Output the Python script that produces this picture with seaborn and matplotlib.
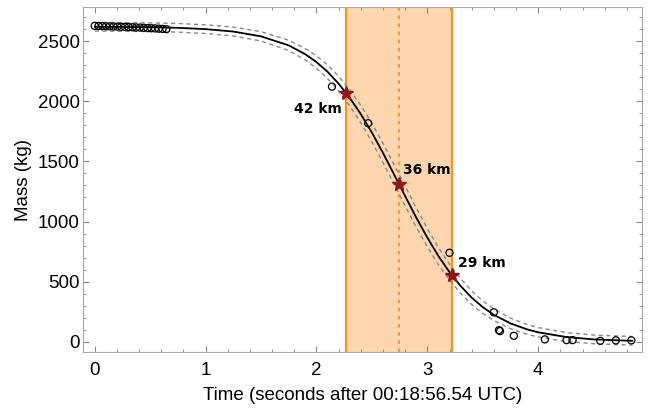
"""
plot.py
Mass loss of the object over time: observed points, fitted curve with
uncertainty bounds, and the fragmentation window highlighted in orange.
"""

import numpy as np
import pandas as pd
import matplotlib
matplotlib.use("Agg")
import matplotlib.pyplot as plt
from matplotlib.ticker import MultipleLocator
import seaborn as sns

# Observed masses (kg) against time (s)
obs_time = [0.00, 0.034, 0.068, 0.102, 0.136, 0.170, 0.204, 0.238, 0.272, 0.306,
            0.340, 0.374, 0.408, 0.442, 0.476, 0.510, 0.544, 0.578, 0.612, 0.646,
            2.14, 2.466, 3.20, 3.60, 3.646, 3.655, 3.78, 4.06, 4.256, 4.31,
            4.56, 4.70, 4.84]
obs_mass = [2626, 2625, 2624, 2623, 2622, 2621, 2620, 2619, 2618, 2616,
            2615, 2613, 2612, 2610, 2608, 2607, 2605, 2603, 2601, 2599,
            2121, 1817, 740, 245, 97, 89, 50, 20, 14, 14,
            8, 12, 12]

# Fitted curve, with the half width of the dashed band
fit_time = [0.0, 0.25, 0.5, 0.75, 1.0, 1.25, 1.5, 1.75, 1.9, 2.0, 2.1, 2.2, 2.3,
            2.4, 2.5, 2.6, 2.7, 2.8, 2.9, 3.0, 3.1, 3.2, 3.3, 3.4, 3.5, 3.6,
            3.75, 3.9, 4.0, 4.25, 4.5, 4.85]
fit_mass = [2619, 2617, 2615, 2610, 2599, 2579, 2539, 2464, 2390, 2325, 2245, 2146, 2028,
            1893, 1739, 1570, 1391, 1211, 1033, 866, 713, 579, 464, 367, 288, 224,
            153, 103, 79, 40, 20, 8]
fit_err = [36, 36, 36, 36, 36, 37, 39, 43, 47, 52, 57, 62, 67,
           72, 77, 80, 82, 82, 80, 76, 71, 66, 61, 56, 52, 48,
           44, 41, 39, 37, 36, 36]

# Altitude markers
alt_time = [2.27, 2.745, 3.22]
alt_mass = [2067, 1310, 555]
alt_labels = ["42 km", "36 km", "29 km"]

# Fragmentation window
window = (2.27, 3.22)
window_mid = 2.745

ORANGE = "#f7941d"
PEACH = "#fdd5ae"
STAR = "#8b1a1a"


def main():
    sns.set_theme(style="ticks")
    plt.rcParams["font.family"] = ["Liberation Sans", "DejaVu Sans"]
    plt.rcParams["text.color"] = "black"
    plt.rcParams["axes.labelcolor"] = "black"
    plt.rcParams["xtick.color"] = "#888888"
    plt.rcParams["ytick.color"] = "#888888"
    plt.rcParams["xtick.labelcolor"] = "black"
    plt.rcParams["ytick.labelcolor"] = "black"

    fit = pd.DataFrame({"t": fit_time, "m": fit_mass, "e": fit_err})
    fit["upper"] = fit["m"] + fit["e"]
    fit["lower"] = fit["m"] - fit["e"]
    obs = pd.DataFrame({"t": obs_time, "m": obs_mass})

    fig = plt.figure(figsize=(6.49, 4.09), dpi=100)
    ax = fig.add_axes([0.128, 0.139, 0.861, 0.843])

    ax.axvspan(*window, color=PEACH, zorder=0, lw=0)
    for x in window:
        ax.axvline(x, color=ORANGE, lw=1.6, zorder=1)
    ax.axvline(window_mid, color=ORANGE, lw=1.3, ls=(0, (2, 2.5)), zorder=1)

    sns.lineplot(data=fit, x="t", y="upper", ax=ax, color="#8a8a8a", lw=1.0,
                 linestyle=(0, (3, 2.5)), zorder=2)
    sns.lineplot(data=fit, x="t", y="lower", ax=ax, color="#8a8a8a", lw=1.0,
                 linestyle=(0, (3, 2.5)), zorder=2)
    sns.lineplot(data=fit, x="t", y="m", ax=ax, color="black", lw=1.3, zorder=3)

    sns.scatterplot(data=obs, x="t", y="m", ax=ax, s=26, facecolor="none",
                    edgecolor="black", linewidth=0.9, zorder=4)

    ax.plot(alt_time, alt_mass, ls="none", marker="*", ms=10.5, color=STAR,
            mec=STAR, zorder=5)
    offsets = [(-5, -16), (4, 14), (6, 12)]
    aligns = ["right", "left", "left"]
    for t, m, lab, off, ha in zip(alt_time, alt_mass, alt_labels, offsets, aligns):
        ax.annotate(lab, (t, m), xytext=off, textcoords="offset pixels",
                    ha=ha, va="center", fontsize=10, fontweight="bold",
                    family="DejaVu Sans", color="black", zorder=6)

    ax.set_xlim(-0.105, 4.935)
    ax.set_ylim(-86, 2780)
    ax.xaxis.set_major_locator(MultipleLocator(1))
    ax.xaxis.set_minor_locator(MultipleLocator(0.2))
    ax.yaxis.set_major_locator(MultipleLocator(500))
    ax.yaxis.set_minor_locator(MultipleLocator(100))
    ax.tick_params(which="both", direction="in", top=True, right=True,
                   labelsize=13.5)
    ax.tick_params(axis="y", which="both", pad=2.5)
    ax.tick_params(axis="x", which="both", pad=7)
    ax.tick_params(which="major", length=4, width=0.8)
    ax.tick_params(which="minor", length=2, width=0.6)
    for sp in ax.spines.values():
        sp.set_color("#aaaaaa")
        sp.set_linewidth(0.8)

    ax.set_xlabel("Time (seconds after 00:18:56.54 UTC)", fontsize=13.5, labelpad=6)
    ax.set_ylabel("Mass (kg)", fontsize=13.5, labelpad=4)

    fig.savefig("out.png", dpi=100)
    plt.close(fig)


if __name__ == "__main__":
    main()
